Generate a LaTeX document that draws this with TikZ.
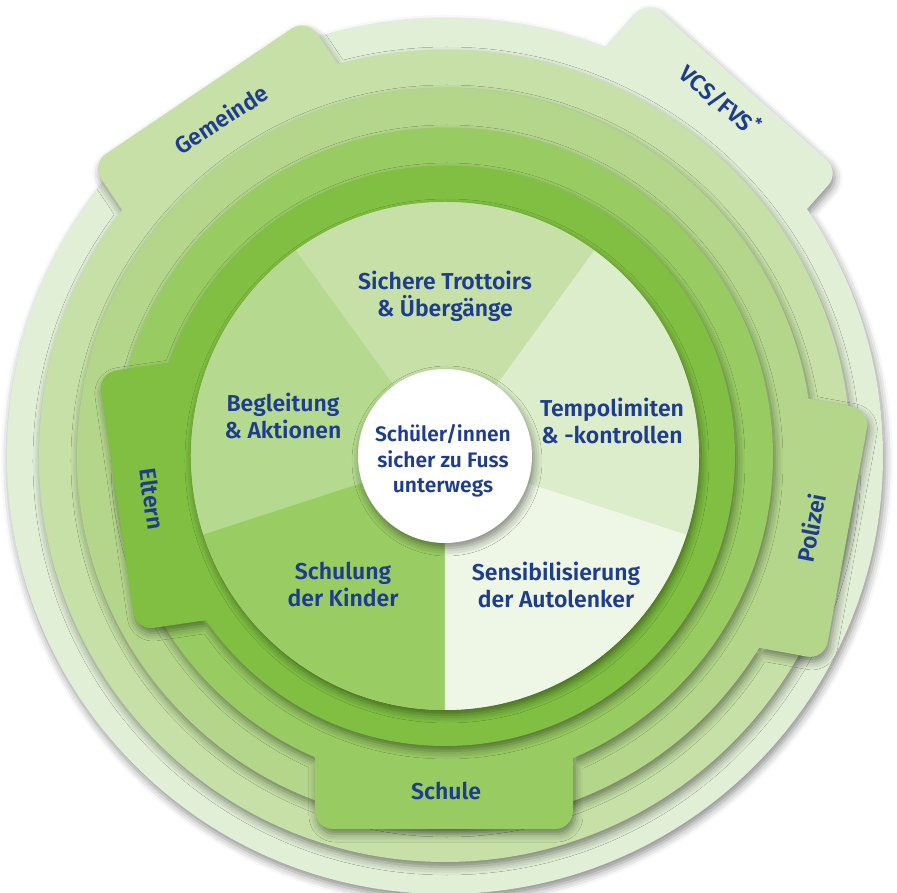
\documentclass[tikz,border=0pt]{standalone}
\usepackage{fontspec}
\setmainfont{Fira Sans}[BoldFont={Fira Sans SemiBold}]
\usetikzlibrary{shadows.blur}
\definecolor{rA}{HTML}{E2EFD7}
\definecolor{rB}{HTML}{C6E0A7}
\definecolor{rC}{HTML}{B3D68B}
\definecolor{rD}{HTML}{99CB63}
\definecolor{rE}{HTML}{80BF41}
\definecolor{sTop}{HTML}{C6E0A7}
\definecolor{sRight}{HTML}{DCEDCB}
\definecolor{sBR}{HTML}{EEF6E6}
\definecolor{sBL}{HTML}{9ACC64}
\definecolor{sLeft}{HTML}{B5D98E}
\definecolor{txt}{HTML}{1E3D8F}
\begin{document}
\begin{tikzpicture}[x=1pt,y=1pt,
  sh/.style={blur shadow={shadow xshift=2pt,shadow yshift=-5pt,shadow blur radius=8pt,shadow opacity=45}},
  lbl/.style={text=txt,font=\bfseries\fontsize{23}{27}\selectfont,align=center,inner sep=0pt},
  clbl/.style={text=txt,font=\bfseries\fontsize{21}{25.5}\selectfont,align=center,inner sep=0pt}]
\useasboundingbox (-445,-437) rectangle (452,456);
% ring A with VCS tab
\fill[rA,sh,rounded corners=18pt] (0,0) circle[radius=438]
  ([rotate=48.3]150,-106) -- ([rotate=48.3]475,-106) -- ([rotate=48.3]475,152) -- ([rotate=48.3]150,152) -- cycle;
% ring B with Gemeinde tab
\fill[rB,sh,rounded corners=18pt] (0,0) circle[radius=406]
  ([rotate=124]150,-130) -- ([rotate=124]440,-130) -- ([rotate=124]440,130) -- ([rotate=124]150,130) -- cycle;
% ring C with Polizei tab
\fill[rC,sh,rounded corners=18pt] (0,0) circle[radius=368]
  ([rotate=-10.4]150,-132) -- ([rotate=-10.4]410,-132) -- ([rotate=-10.4]410,122) -- ([rotate=-10.4]150,122) -- cycle;
% ring D with Schule tab
\fill[rD,sh,rounded corners=18pt] (0,0) circle[radius=328]
  ([rotate=-90]150,-130) -- ([rotate=-90]373,-130) -- ([rotate=-90]373,128) -- ([rotate=-90]150,128) -- cycle;
% ring E with Eltern tab
\fill[rE,sh,rounded corners=18pt] (0,0) circle[radius=290]
  ([rotate=188.3]150,-132) -- ([rotate=188.3]331,-132) -- ([rotate=188.3]331,128) -- ([rotate=188.3]150,128) -- cycle;
% pie
\fill[sTop,sh] (0,0) circle[radius=254];
\fill[sTop] (0,0) -- (54:254) arc[start angle=54,end angle=126,radius=254] -- cycle;
\fill[sLeft] (0,0) -- (126:254) arc[start angle=126,end angle=198,radius=254] -- cycle;
\fill[sBL] (0,0) -- (198:254) arc[start angle=198,end angle=270,radius=254] -- cycle;
\fill[sBR] (0,0) -- (270:254) arc[start angle=270,end angle=342,radius=254] -- cycle;
\fill[sRight] (0,0) -- (342:254) arc[start angle=342,end angle=414,radius=254] -- cycle;
% core
\fill[white,sh] (0,0) circle[radius=87];
% labels
\node[lbl] (trott) at (0,160) {Sichere Trottoirs\\\& Übergänge};
\node[lbl] (tempo) at (167,35) {Tempolimiten\\\& -kontrollen};
\node[lbl] (sensi) at (111,-129) {Sensibilisierung\\der Autolenker};
\node[lbl] (schul) at (-102,-128) {Schulung\\der Kinder};
\node[lbl] (begl) at (-162,40) {Begleitung\\\& Aktionen};
\node[clbl] (core) at (-2,-5) {Schüler/innen\\sicher zu Fuss\\unterwegs};
\node[lbl,rotate=33] (gem) at (-224,337) {Gemeinde};
\node[lbl,rotate=-40] (vcs) at (275,356) {VCS/FVS\textsuperscript{*}};
\node[lbl,rotate=79] (pol) at (366,-72) {Polizei};
\node[lbl] (sch) at (1,-335) {Schule};
\node[lbl,rotate=-82] (elt) at (-293,-43) {Eltern};
\end{tikzpicture}
\end{document}
